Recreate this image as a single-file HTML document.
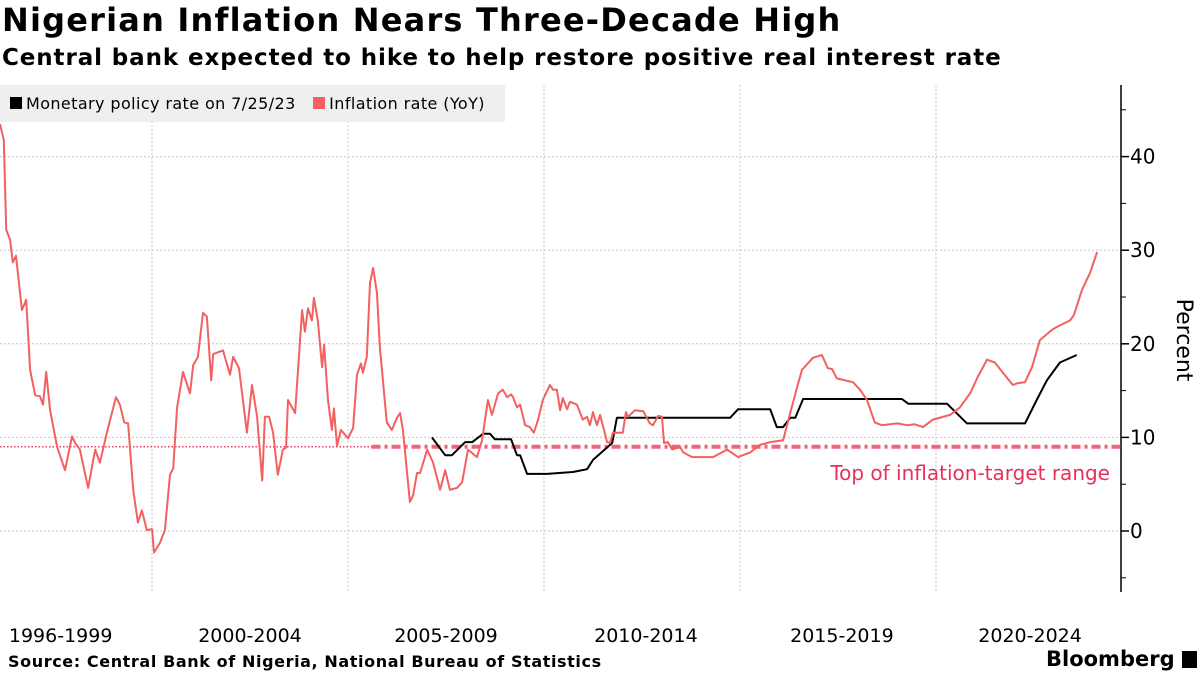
<!DOCTYPE html>
<html><head><meta charset="utf-8"><style>
body{margin:0;background:#fff;width:1200px;height:675px;overflow:hidden;font-family:"DejaVu Sans","Liberation Sans",sans-serif}
.t{position:absolute;white-space:nowrap}
</style></head><body>
<div class="t" style="left:2px;top:1px;font-size:32px;letter-spacing:1.2px;font-weight:bold;color:#000">Nigerian Inflation Nears Three-Decade High</div>
<div class="t" style="left:2px;top:45px;font-size:23px;letter-spacing:0.9px;font-weight:bold;color:#000">Central bank expected to hike to help restore positive real interest rate</div>
<svg id="c" width="1200" height="675" style="position:absolute;left:0;top:0" font-family="DejaVu Sans, Liberation Sans, sans-serif"></svg>
<div class="t" style="left:0;top:85px;width:505px;height:37px;background:#efefef;font-size:16px;letter-spacing:0.4px;line-height:37px">
<span style="margin-left:10px"><span style="display:inline-block;width:12px;height:12px;background:#000;margin-right:4px"></span>Monetary policy rate on 7/25/23</span>
<span style="margin-left:12px"><span style="display:inline-block;width:12px;height:12px;background:#f2615f;margin-right:4px"></span>Inflation rate (YoY)</span>
</div>
<div class="t" style="left:8px;top:652px;font-size:16px;letter-spacing:0.6px;font-weight:bold">Source: Central Bank of Nigeria, National Bureau of Statistics</div>
<div class="t" style="left:1046px;top:647px;font-size:21px;font-weight:bold">Bloomberg <span style="display:inline-block;width:15px;height:17px;background:#000;vertical-align:-2px"></span></div>
<script>
const infYears=[1996.12,1996.22,1996.28,1996.38,1996.45,1996.53,1996.68,1996.79,1996.89,1997.02,1997.14,1997.22,1997.30,1997.40,1997.58,1997.78,1997.96,1998.04,1998.16,1998.37,1998.55,1998.67,1998.85,1999.08,1999.18,1999.29,1999.39,1999.52,1999.64,1999.74,1999.87,2000.00,2000.05,2000.20,2000.33,2000.46,2000.54,2000.64,2000.79,2000.97,2001.05,2001.17,2001.30,2001.40,2001.51,2001.56,2001.81,2001.99,2002.07,2002.22,2002.42,2002.55,2002.68,2002.81,2002.88,2002.99,2003.09,2003.21,2003.34,2003.42,2003.47,2003.65,2003.83,2003.90,2003.98,2004.08,2004.13,2004.23,2004.34,2004.39,2004.49,2004.59,2004.64,2004.72,2004.82,2005.00,2005.13,2005.23,2005.33,2005.38,2005.48,2005.56,2005.64,2005.74,2005.81,2005.99,2006.12,2006.25,2006.33,2006.40,2006.58,2006.66,2006.76,2006.84,2007.02,2007.17,2007.35,2007.48,2007.60,2007.78,2007.91,2008.06,2008.29,2008.42,2008.57,2008.67,2008.83,2008.95,2009.06,2009.16,2009.21,2009.31,2009.39,2009.52,2009.64,2009.74,2009.85,2009.97,2010.15,2010.23,2010.33,2010.41,2010.48,2010.59,2010.66,2010.84,2010.99,2011.10,2011.17,2011.25,2011.35,2011.43,2011.61,2011.68,2011.76,2011.89,2012.01,2012.09,2012.14,2012.32,2012.53,2012.70,2012.78,2012.91,2013.01,2013.06,2013.16,2013.27,2013.47,2013.55,2013.78,2014.16,2014.31,2014.67,2014.95,2015.26,2015.51,2015.77,2016.10,2016.28,2016.46,2016.58,2016.86,2017.09,2017.24,2017.35,2017.47,2017.88,2018.06,2018.24,2018.44,2018.62,2019.01,2019.26,2019.46,2019.67,2019.92,2020.36,2020.61,2020.87,2021.07,2021.30,2021.50,2021.96,2022.09,2022.27,2022.45,2022.65,2022.96,2023.08,2023.42,2023.52,2023.72,2023.93,2024.11];
const infValues=[43.5,41.8,32.2,31.1,28.7,29.4,23.6,24.7,17.2,14.5,14.4,13.5,17.0,12.9,9.0,6.5,10.1,9.4,8.7,4.6,8.7,7.3,10.5,14.3,13.5,11.6,11.5,4.4,0.9,2.2,0.1,0.2,-2.3,-1.3,0.1,6.0,6.7,13.2,17.0,14.7,17.7,18.6,23.3,22.9,16.1,18.9,19.3,16.7,18.6,17.4,10.5,15.6,12.2,5.4,12.2,12.2,10.5,6.0,8.7,8.9,14.0,12.6,23.6,21.3,23.8,22.5,24.9,22.5,17.5,19.9,14.0,10.8,13.1,9.1,10.8,9.9,11.0,16.7,17.9,16.9,18.6,26.5,28.1,25.4,19.7,11.6,10.8,12.1,12.6,10.8,3.1,3.8,6.2,6.2,8.7,7.3,4.4,6.5,4.4,4.6,5.2,8.7,7.9,9.7,14.0,12.4,14.7,15.1,14.3,14.6,14.3,13.2,13.5,11.3,11.1,10.5,11.9,14.0,15.6,15.1,15.1,12.9,14.2,13.0,13.8,13.5,11.9,12.2,11.3,12.7,11.3,12.4,9.5,9.4,10.5,10.5,10.5,12.7,12.2,12.9,12.8,11.5,11.3,12.3,12.2,9.4,9.5,8.7,9.0,8.4,7.9,7.9,7.9,8.7,7.9,8.4,9.2,9.5,9.7,12.6,15.4,17.2,18.5,18.8,17.4,17.3,16.3,15.9,15.1,14.0,11.6,11.3,11.5,11.3,11.4,11.1,11.9,12.4,13.2,14.7,16.5,18.3,18.0,15.6,15.8,15.9,17.5,20.4,21.5,21.8,22.5,23.1,25.7,27.6,29.8];
const mprYears=[2007.14,2007.48,2007.65,2007.99,2008.17,2008.45,2008.62,2008.75,2009.16,2009.31,2009.39,2009.57,2010.08,2010.74,2011.10,2011.25,2011.74,2011.86,2014.75,2014.95,2015.77,2015.94,2016.10,2016.28,2016.41,2016.61,2019.13,2019.29,2020.28,2020.79,2022.27,2022.57,2022.83,2023.16,2023.59];
const mprValues=[10.0,8.1,8.1,9.5,9.5,10.4,10.4,9.8,9.8,8.1,8.1,6.1,6.1,6.3,6.6,7.6,9.4,12.1,12.1,13.0,13.0,11.1,11.1,12.1,12.1,14.1,14.1,13.6,13.6,11.5,11.5,14.0,16.1,18.0,18.8];
const yTicks=[0,10,20,30,40];
const xGridYears=[2000,2005,2010,2015,2020];
const xLabels=["1996-1999","2000-2004","2005-2009","2010-2014","2015-2019","2020-2024"];
const xLabelYears=[1997.67,2002.5,2007.5,2012.6,2017.6,2022.4];
const targetValue=9;

const X=yr=>-4.8+(yr-1996)*39.2;
const Y=v=>531-v*9.36;
const NS="http://www.w3.org/2000/svg";
const svg=document.getElementById('c');
function mk(tag,at){const e=document.createElementNS(NS,tag);for(const k in at)e.setAttribute(k,at[k]);svg.appendChild(e);return e;}
const plotTop=85,plotBot=592,axX=1121;
yTicks.forEach(v=>{
 const g=mk('line',{x1:0,x2:axX,y1:Y(v),y2:Y(v),stroke:'#c8c8c8','stroke-dasharray':'2,2'});
 
 
 const t=mk('text',{x:1130,y:Y(v)+7,'font-size':20,fill:'#000'});t.textContent=v;
 
 
 mk('line',{x1:axX,x2:axX+8,y1:Y(v),y2:Y(v),stroke:'#000','stroke-width':1.5});
});
[-5,5,15,25,35,45].forEach(v=>mk('line',{x1:axX,x2:axX+5,y1:Y(v),y2:Y(v),stroke:'#000','stroke-width':1}));
xGridYears.forEach(yr=>{
 const g=mk('line',{x1:X(yr),x2:X(yr),y1:plotTop,y2:plotBot,stroke:'#c8c8c8','stroke-dasharray':'2,2'});
 
 
});
xLabels.forEach((l,i)=>{
 const t=mk('text',{x:X(xLabelYears[i]),y:642,'font-size':19,'text-anchor':'middle',fill:'#000'});t.textContent=l;
 
 
});
const ax=mk('line',{x1:axX,x2:axX,y1:plotTop,y2:plotBot,stroke:'#000','stroke-width':1.5});


const yt=mk('text',{x:0,y:0,'font-size':22,'text-anchor':'middle',transform:'translate(1177,340) rotate(90)'});yt.textContent='Percent';


const t1=mk('line',{x1:0,x2:X(2005.6),y1:Y(targetValue),y2:Y(targetValue),stroke:'#ee3d5c','stroke-width':1.5,'stroke-dasharray':'1.5,2'});


const t2=mk('line',{x1:X(2005.6),x2:axX,y1:Y(targetValue),y2:Y(targetValue),stroke:'#f0637a','stroke-width':4,'stroke-dasharray':'9,4,3,4'});


const ta=mk('text',{x:1110,y:Y(targetValue)+33,'font-size':20,'text-anchor':'end',fill:'#e5325a'});ta.textContent='Top of inflation-target range';


function path(xs,vs,col,w,name){
 const d=xs.map((yr,i)=>(i?'L':'M')+X(yr).toFixed(1)+','+Y(vs[i]).toFixed(1)).join('');
 const p=mk('path',{d:d,fill:'none',stroke:col,'stroke-width':w,'stroke-linejoin':'round'});
 
 
}
path(mprYears,mprValues,'#000',2,'policy-rate-line');
path(infYears,infValues,'#f2615f',2,'inflation-line');
</script>
</body></html>
